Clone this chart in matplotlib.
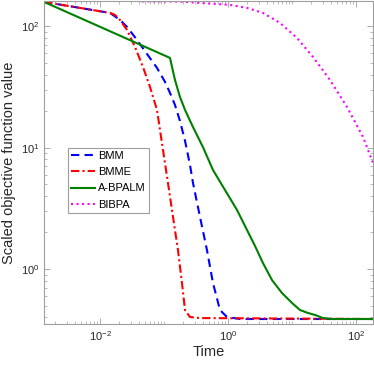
import numpy as np
import matplotlib
matplotlib.use("Agg")
import matplotlib.pyplot as plt
from matplotlib.ticker import FixedLocator, LogLocator, LogFormatterSciNotation, NullFormatter

plt.rcParams['font.family'] = ['Liberation Sans', 'DejaVu Sans']
plt.rcParams['mathtext.fontset'] = 'custom'
plt.rcParams['mathtext.rm'] = 'Liberation Sans'
plt.rcParams['mathtext.it'] = 'Liberation Sans'
plt.rcParams['mathtext.default'] = 'regular'

# datos (tiempo, valor objetivo escalado)
t_bmm = [0.001334, 0.01433, 0.02054, 0.02642, 0.03787, 0.05423, 0.07776, 0.1037,
         0.1241, 0.1485, 0.1778, 0.2131, 0.2549, 0.2840, 0.3652, 0.4698,
         0.5830, 0.7499, 0.9647, 1.540, 184.5]
v_bmm = [159.2, 129.2, 113.1, 99.1, 77.4, 59.3, 45.5, 34.9,
         28.3, 22.5, 16.6, 11.4, 7.21, 5.12, 2.69, 1.43,
         0.766, 0.459, 0.402, 0.387, 0.387]

t_bmme = [0.001334, 0.01433, 0.01715, 0.02054, 0.02642, 0.03522, 0.04698, 0.06043,
          0.07776, 0.09648, 0.1155, 0.1383, 0.1655, 0.1911, 0.2131, 0.2549,
          0.3652, 184.5]
v_bmme = [159.2, 129.2, 124.4, 113.1, 93.5, 67.8, 46.3, 31.7,
          20.5, 9.58, 5.12, 2.69, 1.43, 0.766, 0.459, 0.402,
          0.394, 0.387]

t_abpalm = [0.001334, 0.1241, 0.1485, 0.1778, 0.2131, 0.2840, 0.4067, 0.5830,
            0.8977, 1.382, 2.054, 2.642, 3.521, 4.870, 6.978, 10.0,
            13.34, 17.78, 22.87, 30.50, 43.71, 184.5]
v_abpalm = [159.2, 55.0, 36.2, 26.2, 20.5, 14.8, 10.1, 6.55,
            4.48, 3.07, 2.02, 1.55, 1.12, 0.811, 0.634, 0.525,
            0.459, 0.434, 0.418, 0.394, 0.387, 0.387]

t_bibpa = [0.0453, 0.1778, 1.075, 1.981, 3.52, 6.49, 11.97, 21.28,
           39.2, 72.3, 128.5, 184.5]
v_bibpa = [160.8, 160.3, 150.4, 142.1, 129.2, 106.9, 80.4, 56.0,
           36.2, 21.7, 12.3, 7.48]

fig = plt.figure(figsize=(3.74, 3.67), dpi=100)
ax = fig.add_axes([44/374, 43/367, 329/374, 323/367])

ax.plot(t_bmm, v_bmm, color=(0, 0, 1), ls='--', lw=1.5, label='BMM', dashes=(4, 2.5))
ax.plot(t_bmme, v_bmme, color=(1, 0, 0), ls='-.', lw=1.5, label='BMME', dashes=(4, 1.5, 1, 1.5))
ax.plot(t_abpalm, v_abpalm, color=(0, 0.5, 0), ls='-', lw=1.5, label='A-BPALM')
ax.plot(t_bibpa, v_bibpa, color=(1, 0, 1), ls=':', lw=1.5, label='BIBPA')

ax.set_xscale('log')
ax.set_yscale('log')
ax.set_xlim(0.001334, 184.5)
ax.set_ylim(0.352, 162)

ax.xaxis.set_major_locator(FixedLocator([1e-2, 1e0, 1e2]))
ax.xaxis.set_major_formatter(LogFormatterSciNotation())
ax.xaxis.set_minor_locator(LogLocator(base=10, subs=np.arange(1, 10), numticks=50))
ax.xaxis.set_minor_formatter(NullFormatter())
ax.yaxis.set_major_locator(FixedLocator([1e0, 1e1, 1e2]))
ax.yaxis.set_major_formatter(LogFormatterSciNotation())
ax.yaxis.set_minor_locator(LogLocator(base=10, subs=np.arange(2, 10), numticks=50))
ax.yaxis.set_minor_formatter(NullFormatter())

gris = (0.62, 0.62, 0.62)
for s in ax.spines.values():
    s.set_color(gris)
    s.set_linewidth(0.8)
ax.tick_params(which='both', direction='in', top=True, right=True, color=gris,
               labelcolor=(0.15, 0.15, 0.15), labelsize=8)
ax.tick_params(which='major', length=4, width=0.6)
ax.tick_params(which='minor', length=2, width=0.5)

ax.set_xlabel('Time', fontsize=10.5, color=(0.15, 0.15, 0.15), labelpad=2)
ax.set_ylabel('Scaled objective function value', fontsize=10.5, color=(0.15, 0.15, 0.15), labelpad=3)

leg = ax.legend(loc='lower left', bbox_to_anchor=(0.073, 0.344), fontsize=8,
                frameon=True, fancybox=False, framealpha=1, edgecolor=gris,
                handlelength=2.1, handletextpad=0.3, borderpad=0.3, labelspacing=0.55,
                borderaxespad=0)
leg.get_frame().set_linewidth(0.8)

fig.savefig('out.png', dpi=100)
